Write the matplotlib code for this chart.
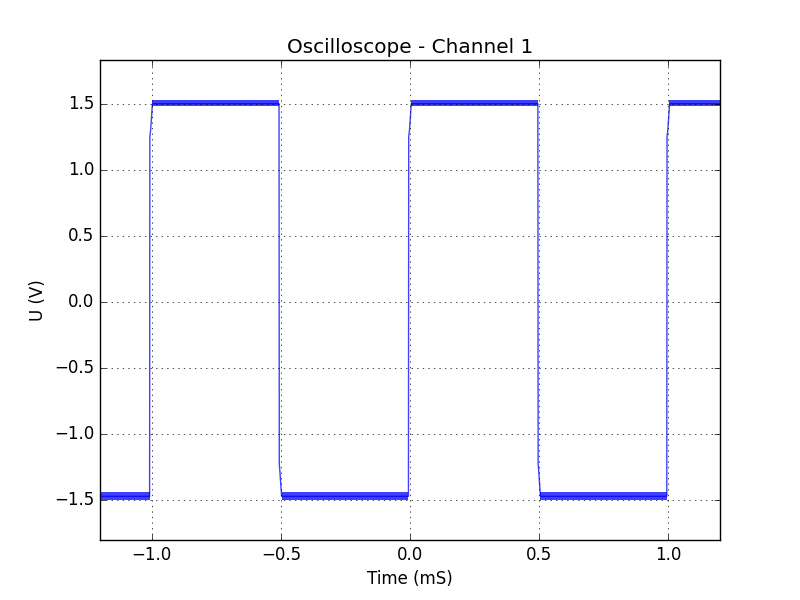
import matplotlib
matplotlib.use("Agg")
from matplotlib import pyplot as plt

# trace vertices (time in mS, voltage in V)
trace_t = [-1.2, -1.008, -1.007, -1.004, -0.997,
           -0.507, -0.506, -0.503, -0.497,
           -0.006, -0.005, -0.002, 0.005,
           0.495, 0.496, 0.499, 0.505,
           0.994, 0.995, 0.998, 1.005, 1.2]
trace_v = [-1.47, -1.47, 1.25, 1.30, 1.50,
           1.50, -1.22, -1.30, -1.47,
           -1.47, 1.25, 1.30, 1.50,
           1.50, -1.22, -1.30, -1.47,
           -1.47, 1.25, 1.30, 1.50, 1.50]

# noise envelope of the flat parts: (start, end), band (low, high)
high_segments = [(-0.998, -0.508), (0.004, 0.495), (1.004, 1.2)]
low_segments = [(-1.2, -1.008), (-0.497, -0.006), (0.505, 0.994)]
high_band = (1.482, 1.528)
low_band = (-1.500, -1.440)

plt.style.use("classic")
fig = plt.figure(figsize=(8, 6), dpi=100)
ax = fig.add_subplot(111)

ax.plot(trace_t, trace_v, color="b", alpha=0.75, linewidth=1)
for t0, t1 in high_segments:
    ax.fill_between([t0, t1], high_band[0], high_band[1],
                    color="b", alpha=0.75, linewidth=0)
for t0, t1 in low_segments:
    ax.fill_between([t0, t1], low_band[0], low_band[1],
                    color="b", alpha=0.75, linewidth=0)

ax.set_xlim(-1.2, 1.2)
ax.set_ylim(-1.80, 1.83)
ax.set_xticks([-1.0, -0.5, 0.0, 0.5, 1.0])
ax.set_yticks([-1.5, -1.0, -0.5, 0.0, 0.5, 1.0, 1.5])
ax.grid(True)
ax.set_title("Oscilloscope - Channel 1")
ax.set_xlabel("Time (mS)")
ax.set_ylabel("U (V)")

fig.savefig("out.png", dpi=100)
